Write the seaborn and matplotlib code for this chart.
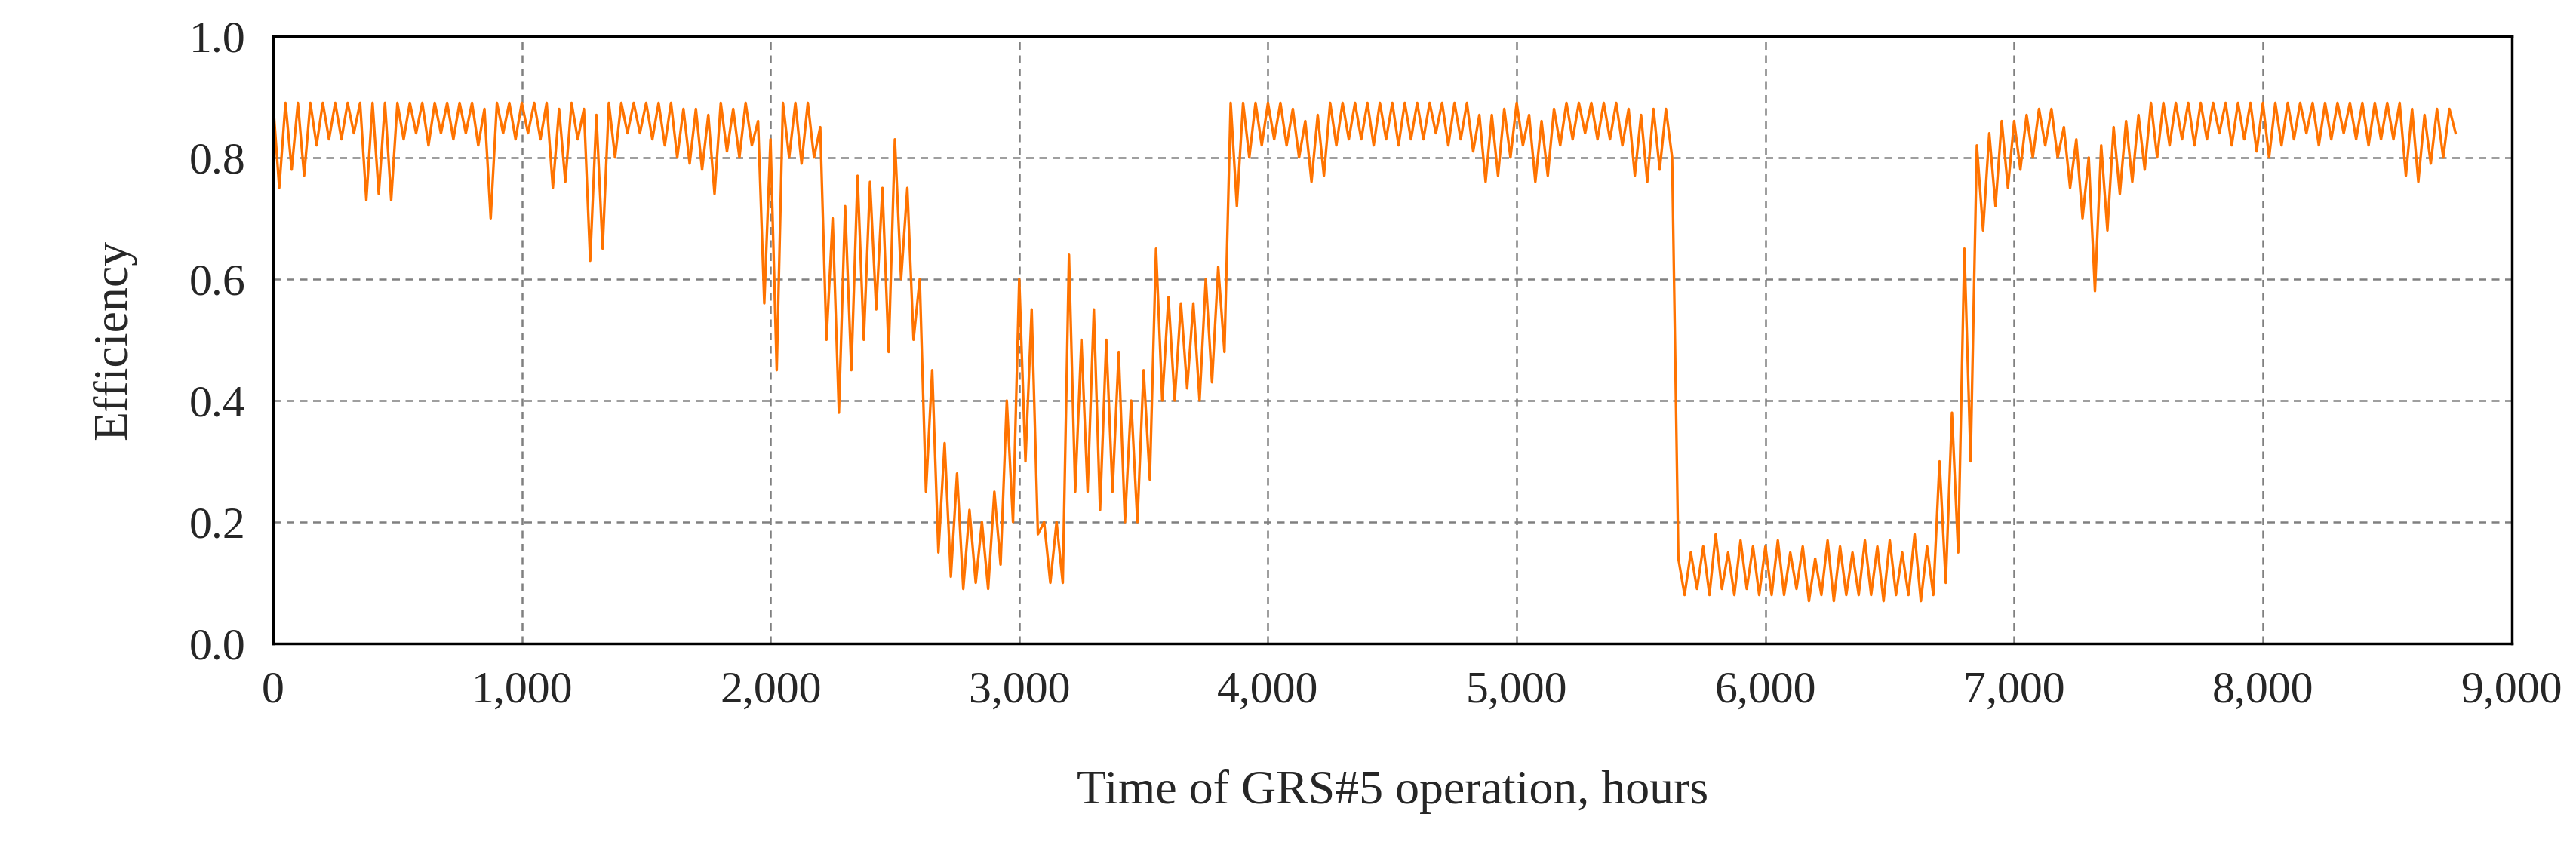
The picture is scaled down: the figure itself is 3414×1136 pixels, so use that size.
import numpy as np
import pandas as pd
import matplotlib
matplotlib.use("Agg")
import matplotlib.pyplot as plt
import matplotlib.ticker as mticker
import seaborn as sns

# envelope, every 50 hours (daily highs / lows)
hours = list(range(0, 8800, 50))
eff_high = [
    .89, .89, .89, .89, .89, .89, .89, .89, .89, .89,
    .89, .89, .89, .89, .89, .89, .89, .88, .89, .89,
    .89, .89, .89, .88, .89, .88, .87, .89, .89, .89,
    .89, .89, .89, .88, .88, .87, .89, .88, .89, .86,
    .83, .89, .89, .89, .85, .70, .72, .77, .76, .75,
    .83, .75, .60, .45, .33, .28, .22, .20, .25, .40,
    .60, .55, .20, .20, .64, .50, .55, .50, .48, .40,
    .45, .65, .57, .56, .56, .60, .62, .89, .89, .89,
    .89, .89, .88, .86, .87, .89, .89, .89, .89, .89,
    .89, .89, .89, .89, .89, .89, .89, .87, .87, .88,
    .89, .87, .86, .88, .89, .89, .89, .89, .89, .88,
    .87, .88, .88, .14, .15, .16, .18, .15, .17, .16,
    .16, .17, .15, .16, .14, .17, .16, .15, .17, .16,
    .17, .15, .18, .16, .30, .38, .65, .82, .84, .86,
    .86, .87, .88, .88, .85, .83, .80, .82, .85, .86,
    .87, .89, .89, .89, .89, .89, .89, .89, .89, .89,
    .89, .89, .89, .89, .89, .89, .89, .89, .89, .89,
    .89, .89, .88, .87, .88, .88,
]
eff_low = [
    .75, .78, .77, .82, .83, .83, .84, .73, .74, .73,
    .83, .84, .82, .84, .83, .84, .82, .70, .84, .83,
    .84, .83, .75, .76, .83, .63, .65, .80, .84, .84,
    .83, .82, .80, .79, .78, .74, .81, .80, .82, .56,
    .45, .80, .79, .80, .50, .38, .45, .50, .55, .48,
    .60, .50, .25, .15, .11, .09, .10, .09, .13, .20,
    .30, .18, .10, .10, .25, .25, .22, .25, .20, .20,
    .27, .40, .40, .42, .40, .43, .48, .72, .80, .82,
    .83, .82, .80, .76, .77, .82, .83, .83, .82, .83,
    .82, .83, .83, .84, .82, .83, .81, .76, .77, .80,
    .82, .76, .77, .82, .83, .84, .83, .83, .82, .77,
    .76, .78, .80, .08, .09, .08, .09, .08, .09, .08,
    .08, .08, .09, .07, .08, .07, .08, .08, .08, .07,
    .08, .08, .07, .08, .10, .15, .30, .68, .72, .75,
    .78, .80, .82, .80, .75, .70, .58, .68, .74, .76,
    .78, .80, .82, .83, .82, .83, .84, .82, .83, .81,
    .80, .82, .83, .84, .82, .83, .84, .83, .82, .83,
    .83, .77, .76, .79, .80, .84,
]

# alternate high and low samples (high at each step, low half a step later)
t, e = [], []
for h, hi, lo in zip(hours, eff_high, eff_low):
    t += [h, h + 25]
    e += [hi, lo]
df = pd.DataFrame({"hours": t, "efficiency": e})

sns.set_style("white")
plt.rcParams["font.family"] = ["Liberation Serif", "DejaVu Serif"]

fig = plt.figure(figsize=(34.14, 11.36), dpi=100)
ax = fig.add_axes([0.106, 0.249, 0.869, 0.709])
sns.lineplot(x="hours", y="efficiency", data=df, color="#FF7300", linewidth=2.4, ax=ax)

ax.set_xlim(0, 9000)
ax.set_ylim(0, 1.0)
ax.xaxis.set_major_locator(mticker.MultipleLocator(1000))
ax.yaxis.set_major_locator(mticker.MultipleLocator(0.2))
ax.xaxis.set_major_formatter(mticker.FuncFormatter(lambda v, p: f"{int(v):,}"))
ax.yaxis.set_major_formatter(mticker.FormatStrFormatter("%.1f"))
ax.grid(True, color="gray", linestyle="--", linewidth=1.8, dashes=(4, 3))
for s in ax.spines.values():
    s.set_color("black")
    s.set_linewidth(2.5)
ax.tick_params(axis="both", labelsize=43, direction="out", length=10, width=2, color="black", pad=16)
ax.set_xlabel("Time of GRS#5 operation, hours", fontsize=46, labelpad=55)
ax.set_ylabel("Efficiency", fontsize=46, labelpad=50)

fig.savefig("out.png", dpi=100)
